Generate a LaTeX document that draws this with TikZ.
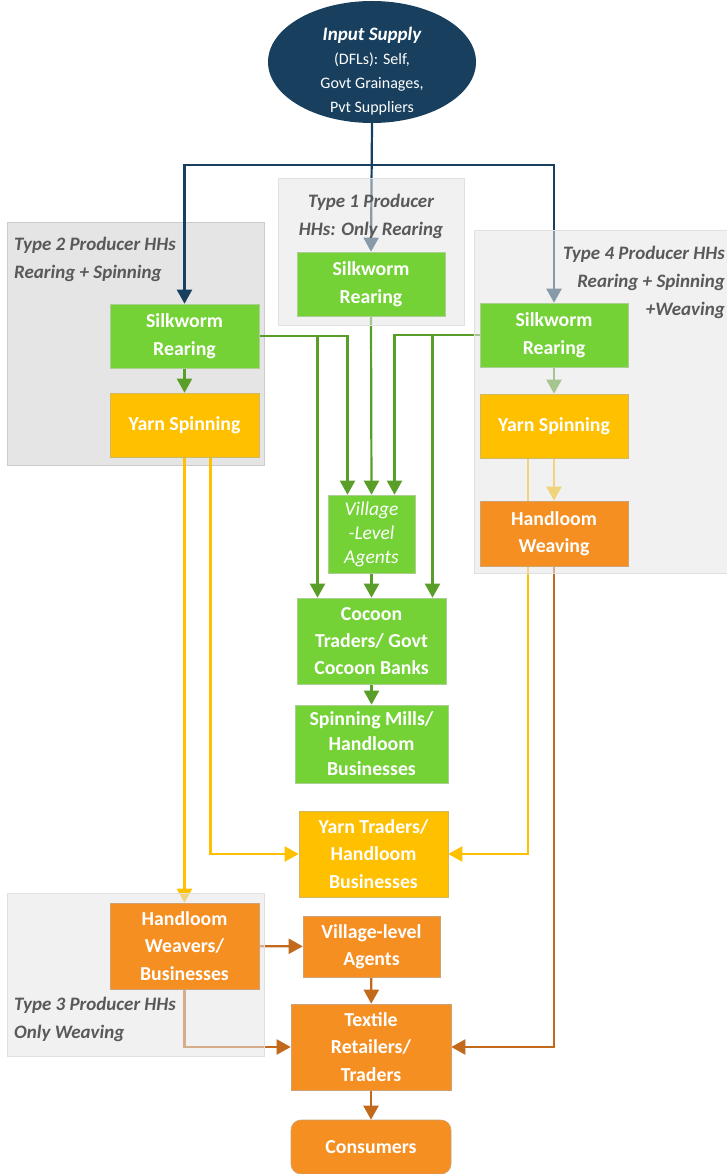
\documentclass[tikz,border=0pt]{standalone}
\usepackage{fontspec}
\setmainfont{Carlito}
\usetikzlibrary{arrows.meta,shapes.geometric}
\definecolor{navy}{HTML}{183F5E}
\definecolor{leaf}{HTML}{74D236}
\definecolor{leafline}{HTML}{5A9E2A}
\definecolor{gold}{HTML}{FFC000}
\definecolor{rust}{HTML}{F58F22}
\definecolor{rustline}{HTML}{C2691C}
\definecolor{hhtext}{HTML}{595959}
\pgfdeclarelayer{bg}
\pgfdeclarelayer{wires}
\pgfdeclarelayer{veil}
\pgfsetlayers{bg,wires,veil,main}
\tikzset{
  stage/.style={rectangle, inner sep=0pt, align=center, text=white,
    font=\fontsize{19.8}{27.5}\selectfont\bfseries},
  greenbox/.style={stage, fill=leaf, draw=leafline!50, line width=.6pt},
  goldbox/.style={stage, fill=gold, draw=gold!70!black!60, line width=.6pt},
  rustbox/.style={stage, fill=rust, draw=rust!70!black!60, line width=.6pt},
  hhbox/.style={fill=black!10, draw=black!20, line width=.8pt},
  hhveil/.style={fill=black!10, fill opacity=.55, draw=black!12, line width=.8pt},
  hhlabel/.style={inner sep=0pt, text=hhtext,
    font=\fontsize{19}{28}\selectfont\bfseries\itshape},
  wire/.style={line width=2.2pt, -{Triangle[length=14pt,width=15pt]}},
}
\begin{document}
\begin{tikzpicture}[x=1pt,y=-1pt]
\useasboundingbox (0,0) rectangle (727,1174);
% input supply
\node[ellipse, fill=navy, minimum width=208pt, minimum height=122pt] (supply) at (372,62) {};
\node[text=white, align=center, font=\fontsize{16}{24}\selectfont] (supplytext) at (372,71)
  {{\fontsize{19}{24}\selectfont\bfseries\itshape Input Supply}\\(DFLs): Self,\\Govt Grainages,\\Pvt Suppliers};
\coordinate (split) at (372,165);

% producer stages
\node[greenbox, minimum width=149pt, minimum height=64pt] (t2silk) at (184.5,336) {Silkworm\\Rearing};
\node[goldbox, minimum width=149pt, minimum height=64pt] (t2yarn) at (184.5,425) {Yarn Spinning};
\node[greenbox, minimum width=148pt, minimum height=64pt] (t1silk) at (371,284) {Silkworm\\Rearing};
\node[greenbox, minimum width=148pt, minimum height=64pt] (t4silk) at (554,335) {Silkworm\\Rearing};
\node[goldbox, minimum width=148pt, minimum height=64pt] (t4yarn) at (554,426) {Yarn Spinning};
\node[rustbox, minimum width=148pt, minimum height=65pt] (t4weave) at (554,533.5) {Handloom\\Weaving};

% traders
\node[greenbox, minimum width=87pt, minimum height=78pt, font=\fontsize{19.5}{24}\selectfont\itshape] (vla) at (371.5,534) {Village\\-Level\\Agents};
\node[greenbox, minimum width=149pt, minimum height=86pt, font=\fontsize{19.8}{27}\selectfont\bfseries] (cocoon) at (371.5,641) {Cocoon\\Traders/ Govt\\Cocoon Banks};
\node[greenbox, minimum width=153pt, minimum height=78pt, font=\fontsize{19.8}{25}\selectfont\bfseries] (mills) at (371.5,744) {Spinning Mills/\\Handloom\\Businesses};
\node[goldbox, minimum width=149pt, minimum height=86pt] (ytrade) at (373.5,854) {Yarn Traders/\\Handloom\\Businesses};
\node[rustbox, minimum width=149pt, minimum height=86pt] (hweav) at (184.5,946) {Handloom\\Weavers/\\Businesses};
\node[rustbox, minimum width=137pt, minimum height=61pt] (vla2) at (371.5,946.5) {Village-level\\Agents};
\node[rustbox, minimum width=160pt, minimum height=86pt] (retail) at (371,1047) {Textile\\Retailers/\\Traders};
\node[rustbox, rounded corners=10pt, minimum width=160pt, minimum height=54pt] (consum) at (371,1147) {Consumers};

% household groups
\begin{pgfonlayer}{bg}
\draw[hhbox] (7,222) rectangle (264,465);
\end{pgfonlayer}
\node[hhlabel, anchor=west, align=left] (t2label) at (14,259.5) {Type 2 Producer HHs\\Rearing + Spinning};
\begin{pgfonlayer}{veil}
\draw[hhveil] (278,178) rectangle (464,325);
\draw[hhveil] (474,230) rectangle (730,573);
\draw[hhveil] (7,893) rectangle (264,1056);
\end{pgfonlayer}
\node[hhlabel, align=center] (t1label) at (371,216) {Type 1 Producer\\HHs: Only Rearing};
\node[hhlabel, anchor=east, align=right] (t4label) at (725,282) {Type 4 Producer HHs\\Rearing + Spinning\\+Weaving};
\node[hhlabel, anchor=west, align=left] (t3label) at (14,1019.5) {Type 3 Producer HHs\\Only Weaving};

\begin{pgfonlayer}{wires}
\begin{scope}[color=navy]
\draw[wire] (supply.south) -- (t1silk.north);
\draw[wire] (split) -| (t2silk.north);
\draw[wire] (split) -| (t4silk.north);
\end{scope}
\begin{scope}[color=leafline]
\draw[wire] (t2silk) -- (t2yarn);
\draw[wire] (t4silk) -- (t4yarn);
\draw[wire] (t2silk.east) -| ([xshift=-24pt]vla.north);
\draw[wire] (t2silk.east) -| ([xshift=-54pt]cocoon.north);
\draw[wire] (t1silk.south) -- (vla.north);
\draw[wire] (t4silk.west) -| ([xshift=23pt]vla.north);
\draw[wire] (t4silk.west) -| ([xshift=61pt]cocoon.north);
\draw[wire] (vla) -- (cocoon);
\draw[wire] (cocoon) -- (mills);
\end{scope}
\begin{scope}[color=gold]
\draw[wire] (t2yarn.south) -- (hweav.north);
\draw[wire] ([xshift=26pt]t2yarn.south) |- (ytrade.west);
\draw[wire] (t4yarn) -- (t4weave);
\draw[wire] ([xshift=-26pt]t4yarn.south) |- (ytrade.east);
\end{scope}
\begin{scope}[color=rustline]
\draw[wire] (hweav) -- (vla2);
\draw[wire] (vla2) -- (retail);
\draw[wire] (hweav.south) |- (retail.west);
\draw[wire] (t4weave.south) |- (retail.east);
\draw[wire] (retail) -- (consum);
\end{scope}
\end{pgfonlayer}
\end{tikzpicture}
\end{document}
